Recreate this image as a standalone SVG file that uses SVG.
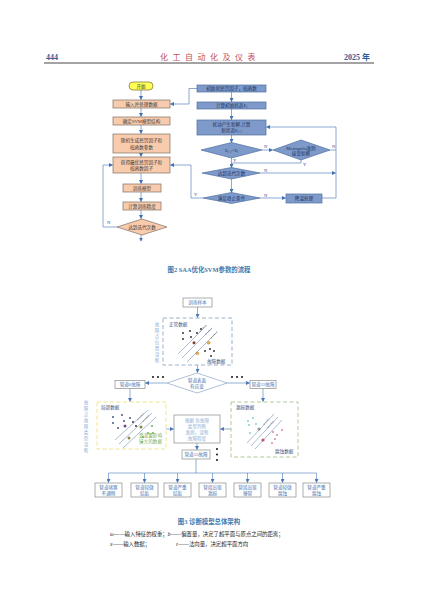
<svg xmlns="http://www.w3.org/2000/svg" width="427" height="593" viewBox="0 0 427 593">
<defs>
<marker id="ah" markerWidth="4" markerHeight="4" refX="3.5" refY="2" orient="auto" markerUnits="userSpaceOnUse"><path d="M0,0 L4,2 L0,4 z" fill="#3F6FB5"/></marker>
<marker id="ah2" markerWidth="4" markerHeight="4" refX="3.5" refY="2" orient="auto" markerUnits="userSpaceOnUse"><path d="M0,0 L4,2 L0,4 z" fill="#4A78B8"/></marker>
</defs>
<style>
text{font-family:"Liberation Serif","Noto Sans CJK SC",serif;}
.hd{font-size:8px;font-weight:bold;}
.o{fill:#F8CBAD;stroke:#7F6F66;stroke-width:0.7;}
.b{fill:#7E9ACB;stroke:#4E6E9E;stroke-width:0.7;}
.t{font-size:4.6px;fill:#3A3A3A;text-anchor:middle;}
.tb{font-size:4.6px;fill:#22335A;text-anchor:middle;}
.c{fill:none;stroke:#3F6FB5;stroke-width:0.6;}
.lab{font-size:4.6px;fill:#2E4E86;}
.cap{font-size:6.4px;fill:#3D7AB0;font-weight:bold;text-anchor:middle;}
.w{fill:#fff;stroke:#8A8A8A;stroke-width:0.7;}
.tw{font-size:4.6px;fill:#4A72B0;text-anchor:middle;}
.c3{fill:none;stroke:#4A78B8;stroke-width:0.6;}
.note{font-size:5.4px;fill:#222;}
.dk{fill:#222;}
.sv{fill:none;stroke:#556;stroke-width:0.5;}
</style>

<!-- header -->
<g id="header">
<text x="46" y="60" class="hd" fill="#2E5E9A">444</text>
<text x="210" y="60" font-size="8" fill="#C0505A" text-anchor="middle" letter-spacing="4.5">化工自动化及仪表</text>
<text x="344" y="60" class="hd" fill="#2E5E9A">2025 年</text>
<line x1="44" y1="63" x2="374" y2="63" stroke="#333" stroke-width="0.9"/>
</g>

<!-- Figure 2 -->
<g id="f2_connectors">
<path class="c" d="M141,90 V99.5" marker-end="url(#ah)"/>
<path class="c" d="M141,108 V116.5" marker-end="url(#ah)"/>
<path class="c" d="M141,125 V133.5" marker-end="url(#ah)"/>
<path class="c" d="M141,153 V156.5" marker-end="url(#ah)"/>
<path class="c" d="M141,173 V183.5" marker-end="url(#ah)"/>
<path class="c" d="M141,192 V201.5" marker-end="url(#ah)"/>
<path class="c" d="M141,210 V218.5" marker-end="url(#ah)"/>
<path class="c" d="M141,235 V241" marker-end="url(#ah)"/>
<path class="c" d="M117,227 H103 V165 H112.5" marker-end="url(#ah)"/>
<path class="c" d="M197,88.5 H189 V104 H170.5" marker-end="url(#ah)"/>
<path class="c" d="M231.5,92 V101.5" marker-end="url(#ah)"/>
<path class="c" d="M231.5,109 V119.5" marker-end="url(#ah)"/>
<path class="c" d="M231.5,135 V142.5" marker-end="url(#ah)"/>
<path class="c" d="M262,150 H272.5" marker-end="url(#ah)"/>
<path class="c" d="M231.5,158 V167.5" marker-end="url(#ah)"/>
<path class="c" d="M301,160 V163 H231.5"/>
<path class="c" d="M330,150 H336"/>
<path class="c" d="M260,173 H335.5" marker-end="url(#ah)"/>
<path class="c" d="M231.5,179 V192.5" marker-end="url(#ah)"/>
<path class="c" d="M260,198 H285.5" marker-end="url(#ah)"/>
<path class="c" d="M322,198 H336 V127 H266.5" marker-end="url(#ah)"/>
<path class="c" d="M203,198 H191 V165 H170.5" marker-end="url(#ah)"/>
<text x="107" y="224" class="lab">N</text>
<text x="264" y="148" class="lab">N</text>
<text x="332" y="148" class="lab">N</text>
<text x="233" y="162" class="lab">Y</text>
<text x="303" y="166" class="lab">Y</text>
<text x="264" y="172" class="lab">N</text>
<text x="264" y="196.5" class="lab">N</text>
<text x="194" y="196" class="lab">Y</text>
</g>

<g id="n_start"><rect x="129" y="82" width="24" height="8" rx="4" fill="#FFFF55" stroke="#7A6A33" stroke-width="0.7"/><text x="141" y="87.7" class="t">开始</text></g>
<g id="n_input"><rect x="113" y="100" width="57" height="8" class="o"/><text x="141.5" y="105.7" class="t">输入并处理数据</text></g>
<g id="n_svm"><rect x="113" y="117" width="57" height="8" class="o"/><text x="141.5" y="122.7" class="t">确定SVM模型结构</text></g>
<g id="n_rand"><rect x="113" y="134" width="57" height="19" class="o"/><text x="141.5" y="142" class="t">随机生成惩罚因子和</text><text x="141.5" y="148.5" class="t">核函数参数</text></g>
<g id="n_best"><rect x="113" y="157" width="57" height="16" class="o"/><text x="141.5" y="164" class="t">获得最优惩罚因子和</text><text x="141.5" y="170" class="t">核函数因子</text></g>
<g id="n_train"><rect x="123" y="184" width="38" height="8" class="o"/><text x="142" y="189.7" class="t">训练模型</text></g>
<g id="n_acc"><rect x="123" y="202" width="38" height="8" class="o"/><text x="142" y="207.7" class="t">计算训练精度</text></g>
<g id="n_iter1"><polygon points="117,227 142,219 167,227 142,235" class="o"/><text x="142" y="228.7" class="t">达到迭代次数</text></g>

<g id="n_init"><rect x="197" y="85" width="69" height="7" class="b"/><text x="231.5" y="90.2" class="tb">初始化惩罚因子，核函数</text></g>
<g id="n_e0"><rect x="197" y="102" width="69" height="7" class="b"/><text x="231.5" y="107.2" class="tb">计算初始状态E<tspan font-size="3" dy="0.8">i</tspan></text></g>
<g id="n_perturb"><rect x="197" y="120" width="69" height="15" class="b"/><text x="231.5" y="126.3" class="tb">扰动产生新解,计算</text><text x="231.5" y="132.3" class="tb">新状态E<tspan font-size="3" dy="0.8">i+1</tspan></text></g>
<g id="n_cmp"><polygon points="201,150 231.5,142.5 262,150 231.5,158" class="b"/><text x="231.5" y="151.7" class="tb">E<tspan font-size="3" dy="0.8">i+1</tspan><tspan dy="-0.8">&lt;E</tspan><tspan font-size="3" dy="0.8">i</tspan></text></g>
<g id="n_metro"><polygon points="273,150 301,140 330,150 301,160" class="b"/><text x="301" y="149.5" class="tb">Metropolis准则</text><text x="301" y="155" class="tb">接受新解</text></g>
<g id="n_iter2"><polygon points="202,173 231.5,167.5 260,173 231.5,179" class="b"/><text x="231.5" y="174.7" class="tb">达到迭代次数</text></g>
<g id="n_stop"><polygon points="203,198 231.5,192.5 260,198 231.5,203.5" class="b"/><text x="231.5" y="199.7" class="tb">满足终止条件</text></g>
<g id="n_cool"><rect x="286" y="194" width="36" height="9" class="b"/><text x="304" y="200.2" class="tb">降温处理</text></g>

<text x="209" y="272" class="cap">图2   SAA优化SVM参数的流程</text>

<!-- Figure 3 -->
<g id="f3_connectors">
<path class="c3" d="M197.5,307 V317.5" marker-end="url(#ah2)"/>
<path class="c3" d="M197.5,365 V372.5" marker-end="url(#ah2)"/>
<path class="c3" d="M167,383 H145.5" marker-end="url(#ah2)"/>
<path class="c3" d="M227,383 H249.5" marker-end="url(#ah2)"/>
<path class="c3" d="M130,388 V401.5" marker-end="url(#ah2)"/>
<path class="c3" d="M263,388 V401.5" marker-end="url(#ah2)"/>
<path class="c3" d="M166,429 H173.5" marker-end="url(#ah2)"/>
<path class="c3" d="M231,429 H220.5" marker-end="url(#ah2)"/>
<path class="c3" d="M197,443 V449.5" marker-end="url(#ah2)"/>
<path class="c3" d="M196,459 V473"/>
<path class="c3" d="M108.5,473 H316.5"/>
<path class="c3" d="M108.5,473 V482.5" marker-end="url(#ah2)"/>
<path class="c3" d="M144.5,473 V482.5" marker-end="url(#ah2)"/>
<path class="c3" d="M177.5,473 V482.5" marker-end="url(#ah2)"/>
<path class="c3" d="M212.5,473 V482.5" marker-end="url(#ah2)"/>
<path class="c3" d="M247.5,473 V482.5" marker-end="url(#ah2)"/>
<path class="c3" d="M282.5,473 V482.5" marker-end="url(#ah2)"/>
<path class="c3" d="M316.5,473 V482.5" marker-end="url(#ah2)"/>
</g>

<g id="n_samples"><rect x="183" y="298" width="29" height="9" class="w"/><text x="197.5" y="304.3" class="tw">训练样本</text></g>

<g id="n_loc">
<rect x="163" y="318" width="69" height="47" fill="none" stroke="#8FA8C6" stroke-width="0.9" stroke-dasharray="4,2.5"/>
<text x="169" y="326" font-size="4.6" fill="#3A4E7A">正常数据</text>
<text x="207" y="363" font-size="4.6" fill="#3A4E7A">故障数据</text>
<g fill="#222">
<circle cx="183" cy="333" r="0.9"/><circle cx="190" cy="331" r="0.9"/><circle cx="197" cy="333" r="0.9"/><circle cx="201" cy="329" r="0.9"/><circle cx="183" cy="339" r="0.9"/><circle cx="191" cy="337" r="0.9"/>
<circle cx="205" cy="351" r="0.9"/><circle cx="210" cy="349" r="0.9"/><circle cx="214" cy="351" r="0.9"/><circle cx="211" cy="356" r="0.9"/>
</g>
<circle cx="194" cy="342.7" r="1.5" fill="#8B3A2A"/>
<circle cx="208.7" cy="342.7" r="1.5" fill="#E8B04A" stroke="#C08020" stroke-width="0.4"/>
<circle cx="197.3" cy="353.3" r="1.5" fill="#E8B04A" stroke="#C08020" stroke-width="0.4"/>
<g stroke="#5A78A8" stroke-width="0.5">
<line x1="178" y1="354" x2="207" y2="325"/>
<line x1="182" y1="358" x2="212" y2="328"/>
<line x1="187" y1="362" x2="217" y2="332"/>
</g>
<g font-size="2.4" fill="#333">
<text x="200" y="332" transform="rotate(-45 200 332)">w·x+b=1</text>
<text x="206" y="335" transform="rotate(-45 206 335)">w·x+b=0</text>
<text x="211" y="339" transform="rotate(-45 211 339)">w·x+b=-1</text>
</g>
</g>
<g id="lbl_loc" font-size="4.6" fill="#8FB0D6" text-anchor="middle">
<text x="157" y="326">故</text><text x="157" y="332">障</text><text x="157" y="338">点</text><text x="157" y="344">位</text><text x="157" y="350">置</text><text x="157" y="356">诊</text><text x="157" y="362">断</text>
</g>

<g id="n_surface"><polygon points="167,383 197,373 227,383 197,393" fill="#fff" stroke="#8FA8C6" stroke-width="0.7"/><text x="197" y="381.5" class="tw">管道表面</text><text x="197" y="387.5" class="tw">有应变</text></g>
<g id="dots1" fill="#111"><circle cx="153" cy="377" r="1"/><circle cx="158" cy="377" r="1"/><circle cx="163" cy="377" r="1"/><circle cx="232" cy="377" r="1"/><circle cx="237" cy="377" r="1"/><circle cx="242" cy="377" r="1"/></g>
<g id="n_p8"><rect x="115" y="380.5" width="30" height="8" class="w"/><text x="130" y="386.3" class="tw">管道8故障</text></g>
<g id="n_p22"><rect x="250" y="380.5" width="26" height="8" class="w"/><text x="263" y="386.3" class="tw">管道22故障</text></g>

<g id="lbl_type" font-size="4.6" fill="#8FB0D6" text-anchor="middle">
<text x="86" y="404">故</text><text x="86" y="410">障</text><text x="86" y="416">点</text><text x="86" y="422">故</text><text x="86" y="428">障</text><text x="86" y="434">类</text><text x="86" y="440">型</text><text x="86" y="446">诊</text><text x="86" y="452">断</text>
</g>

<g id="n_local">
<rect x="97" y="402" width="69" height="47" fill="none" stroke="#EEE27A" stroke-width="0.9" stroke-dasharray="4,2.5"/>
<text x="101" y="409" font-size="4.6" fill="#3A4E7A">局部数据</text>
<text x="162" y="437" font-size="4.6" fill="#7DAA4A" text-anchor="end">受流量影响</text>
<text x="162" y="443" font-size="4.6" fill="#7DAA4A" text-anchor="end">较大的数据</text>
<g fill="#2A4A7A"><circle cx="113" cy="417" r="0.9"/><circle cx="122" cy="415" r="0.9"/><circle cx="113" cy="423" r="0.9"/><circle cx="124" cy="421" r="0.9"/><circle cx="118" cy="428" r="0.9"/><circle cx="130" cy="418" r="0.9"/></g>
<g fill="#222"><circle cx="133" cy="422" r="0.9"/><circle cx="136" cy="426" r="0.9"/></g>
<g fill="#5AAA4A"><circle cx="152" cy="426" r="0.9"/><circle cx="148" cy="433" r="0.9"/><circle cx="153" cy="433" r="0.9"/><circle cx="143" cy="437" r="0.9"/><circle cx="142" cy="442" r="0.9"/></g>
<circle cx="125" cy="426" r="1.5" fill="#6A4A8A"/>
<circle cx="141" cy="427" r="1.5" fill="#8A8A3A"/>
<circle cx="129" cy="438" r="1.5" fill="#8A8A4A"/>
<g stroke="#5A78A8" stroke-width="0.5">
<line x1="115" y1="440" x2="148" y2="410"/>
<line x1="119" y1="444" x2="152" y2="413"/>
<line x1="123" y1="448" x2="156" y2="417"/>
</g>
<g font-size="2.4" fill="#333">
<text x="138" y="420" transform="rotate(-43 138 420)">w·x+b=1</text>
<text x="143" y="422" transform="rotate(-43 143 422)">w·x+b=0</text>
</g>
</g>

<g id="n_leak">
<rect x="231" y="402" width="67" height="55" fill="none" stroke="#A8C48C" stroke-width="0.9" stroke-dasharray="4,2.5"/>
<text x="236" y="409" font-size="4.6" fill="#3A4E7A">漏损数据</text>
<text x="275" y="453" font-size="4.6" fill="#3A4E7A">腐蚀数据</text>
<g fill="#7ACAD0"><circle cx="248" cy="421" r="0.9"/><circle cx="253" cy="418" r="0.9"/><circle cx="249" cy="425" r="0.9"/><circle cx="256" cy="424" r="0.9"/><circle cx="250" cy="433" r="0.9"/></g>
<g fill="#D87AA8"><circle cx="273" cy="432" r="0.9"/><circle cx="277" cy="435" r="0.9"/><circle cx="282" cy="430" r="0.9"/><circle cx="275" cy="439" r="0.9"/><circle cx="272" cy="443" r="0.9"/></g>
<circle cx="259" cy="429" r="1.6" fill="#9A9A9A"/>
<circle cx="263" cy="440" r="1.6" fill="#D84A5A"/>
<g stroke="#5A78A8" stroke-width="0.5">
<line x1="247" y1="443" x2="274" y2="414"/>
<line x1="251" y1="446" x2="278" y2="417"/>
<line x1="255" y1="449" x2="282" y2="420"/>
</g>
<g font-size="2.4" fill="#333">
<text x="264" y="425" transform="rotate(-47 264 425)">w·x+b=1</text>
<text x="268" y="428" transform="rotate(-47 268 428)">w·x+b=0</text>
</g>
</g>

<g id="n_judge"><rect x="174" y="415" width="46" height="28" class="w"/>
<text x="197" y="421.5" font-size="4.6" fill="#8FB0D6" text-anchor="middle">根据 各故障</text>
<text x="197" y="427.5" font-size="4.6" fill="#8FB0D6" text-anchor="middle">类型判断</text>
<text x="197" y="433.5" font-size="4.6" fill="#8FB0D6" text-anchor="middle">准则，诊断</text>
<text x="197" y="439.5" font-size="4.6" fill="#8FB0D6" text-anchor="middle">故障程度</text>
</g>
<g id="n_p15"><rect x="182" y="450" width="28" height="9" class="w"/><text x="196" y="456.3" class="tw">管道15故障</text></g>
<g id="dots2" fill="#111"><circle cx="217" cy="449" r="1"/><circle cx="217" cy="454.5" r="1"/><circle cx="217" cy="460" r="1"/></g>

<g id="r1"><rect x="95" y="483" width="27" height="14" class="w"/><text x="108.5" y="489" class="tw">管道堵塞</text><text x="108.5" y="494.5" class="tw">不通畅</text></g>
<g id="r2"><rect x="131" y="483" width="27" height="14" class="w"/><text x="144.5" y="489" class="tw">管道轻微</text><text x="144.5" y="494.5" class="tw">结垢</text></g>
<g id="r3"><rect x="164" y="483" width="27" height="14" class="w"/><text x="177.5" y="489" class="tw">管道严重</text><text x="177.5" y="494.5" class="tw">结垢</text></g>
<g id="r4"><rect x="199" y="483" width="27" height="14" class="w"/><text x="212.5" y="489" class="tw">管段出现</text><text x="212.5" y="494.5" class="tw">漏损</text></g>
<g id="r5"><rect x="234" y="483" width="27" height="14" class="w"/><text x="247.5" y="489" class="tw">管段出现</text><text x="247.5" y="494.5" class="tw">爆管</text></g>
<g id="r6"><rect x="269" y="483" width="27" height="14" class="w"/><text x="282.5" y="489" class="tw">管道轻微</text><text x="282.5" y="494.5" class="tw">腐蚀</text></g>
<g id="r7"><rect x="303" y="483" width="27" height="14" class="w"/><text x="316.5" y="489" class="tw">管道严重</text><text x="316.5" y="494.5" class="tw">腐蚀</text></g>

<text x="209" y="524" class="cap">图3   诊断模型总体架构</text>
<text x="110" y="536" class="note"><tspan font-style="italic">ω</tspan>——输入特征的权重；<tspan font-style="italic">b</tspan>——偏置量，决定了超平面与原点之间的距离；</text>
<text x="110" y="546" class="note"><tspan font-style="italic">x</tspan>——输入数据；</text>
<text x="176" y="546" class="note"><tspan font-style="italic">ε</tspan>——法向量，决定超平面方向</text>
</svg>
